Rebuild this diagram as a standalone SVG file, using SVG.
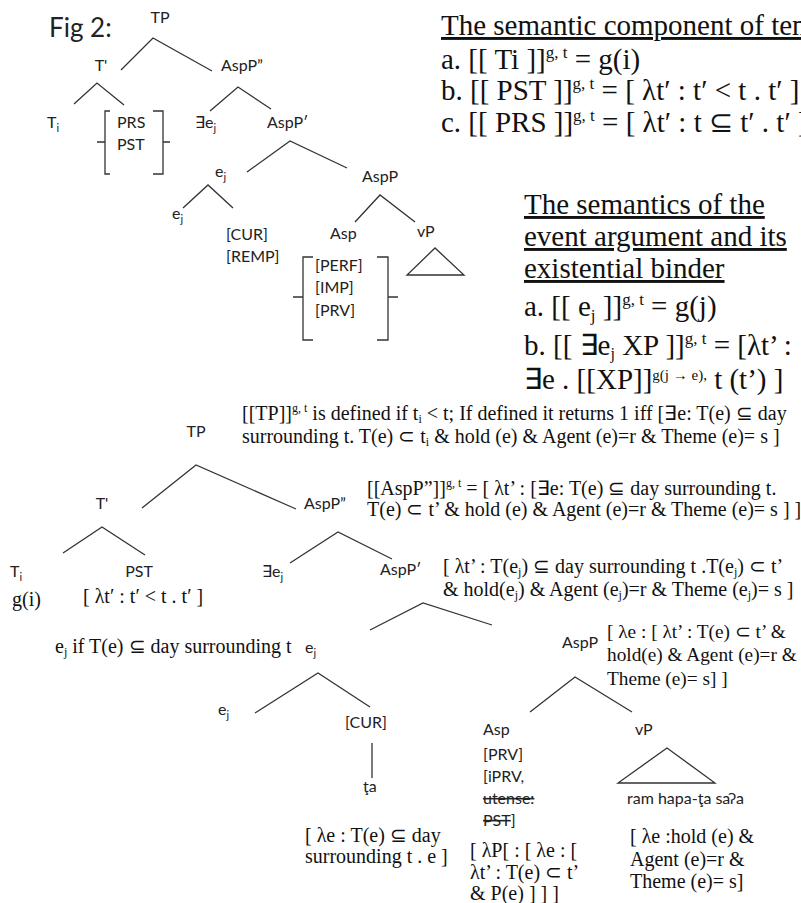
<svg xmlns="http://www.w3.org/2000/svg" width="801" height="903" viewBox="0 0 801 903">
<style>
.s{font-family:Lato,"Liberation Sans","DejaVu Sans",sans-serif;font-size:16px;fill:#222}
.r{font-family:"Liberation Serif","Times New Roman",serif;fill:#111}
.big{font-size:29px}
.m{font-size:20px}
.m2{font-size:19.3px}
.fig{font-size:26px}
.ln{stroke:#333;stroke-width:1.3;fill:none}
.u{text-decoration:underline}
.st{text-decoration:line-through}
</style>
<rect width="801" height="903" fill="#fff"/>

<!-- connectors -->
<g id="connectors" class="ln">
  <!-- top tree -->
  <polyline points="121,70 153,38 212,71"/>
  <polyline points="74,104 97,83 124,105"/>
  <polyline points="210,111 238,87 271,109"/>
  <polyline points="247,172 290,141 347,168"/>
  <polyline points="183,208 208,185 233,208"/>
  <polyline points="355,222 380,195 415,222"/>
  <polygon points="435,248 407,275 464,275"/>
  <path d="M110,111H105V174H110M97,142H105"/>
  <path d="M153,111H163V174H153M163,142H170"/>
  <path d="M313,257H303V340H313M293,297H303"/>
  <path d="M377,257H388V340H377M388,297H398"/>
  <!-- bottom tree -->
  <polyline points="142,508 196,465 296,509"/>
  <polyline points="63,553 102,527 145,555"/>
  <polyline points="290,563 338,532 392,559"/>
  <polyline points="370,630 423,603 492,625"/>
  <polyline points="255,713 318,673 370,707"/>
  <polyline points="530,712 575,677 632,712"/>
  <line x1="372" y1="743" x2="372" y2="778"/>
  <polygon points="667,748 618,783 715,783"/>
</g>

<!-- top tree -->
<g id="fig-label"><text class="s fig" x="49" y="37">Fig 2:</text></g>
<g id="t-TP"><text class="s" x="160" y="23" text-anchor="middle">TP</text></g>
<g id="t-Tbar"><text class="s" x="101" y="71" text-anchor="middle">T'</text></g>
<g id="t-AspP2"><text class="s" x="221" y="71">AspP”</text></g>
<g id="t-Ti"><text class="s" x="47" y="128">T<tspan font-size="11" dy="4">i</tspan></text></g>
<g id="t-PRS-PST"><text class="s" x="117" y="128">PRS</text><text class="s" x="117" y="150">PST</text></g>
<g id="t-Eej"><text class="s" x="195" y="128">∃e<tspan font-size="11" dy="4">j</tspan></text></g>
<g id="t-AspP1"><text class="s" x="267" y="128">AspP′</text></g>
<g id="t-ej1"><text class="s" x="215" y="177">e<tspan font-size="11" dy="4">j</tspan></text></g>
<g id="t-AspP"><text class="s" x="362" y="182">AspP</text></g>
<g id="t-ej2"><text class="s" x="172" y="219">e<tspan font-size="11" dy="4">j</tspan></text></g>
<g id="t-CUR"><text class="s" x="226" y="240">[CUR]</text><text class="s" x="226" y="262">[REMP]</text></g>
<g id="t-Asp"><text class="s" x="330" y="239">Asp</text></g>
<g id="t-vP"><text class="s" x="417" y="237">vP</text></g>
<g id="t-asp-features"><text class="s" x="315" y="271">[PERF]</text><text class="s" x="315" y="293">[IMP]</text><text class="s" x="315" y="316">[PRV]</text></g>

<!-- top right texts -->
<g id="tense-semantics">
  <text class="r big u" x="441" y="35">The semantic component of tense</text>
  <text class="r big" x="441" y="69">a. [[ Ti ]]<tspan font-size="17" dy="-11">g, t</tspan><tspan dy="11"> = g(i)</tspan></text>
  <text class="r big" x="441" y="100">b. [[ PST ]]<tspan font-size="17" dy="-11">g, t</tspan><tspan dy="11"> = [ λt′ : t′ &lt; t . t′ ]</tspan></text>
  <text class="r big" x="441" y="132">c. [[ PRS ]]<tspan font-size="17" dy="-11">g, t</tspan><tspan dy="11"> = [ λt′ : t ⊆ t′ . t′ ]</tspan></text>
</g>
<g id="event-semantics">
  <text class="r big u" x="524" y="214">The semantics of the</text>
  <text class="r big u" x="524" y="246">event argument and its</text>
  <text class="r big u" x="524" y="278">existential binder</text>
  <text class="r big" x="524" y="316">a. [[ e<tspan font-size="17" dy="5">j</tspan><tspan dy="-5"> ]]</tspan><tspan font-size="17" dy="-11">g, t</tspan><tspan dy="11"> = g(j)</tspan></text>
  <text class="r big" x="524" y="355">b. [[ ∃e<tspan font-size="16" dy="4">j</tspan><tspan dy="-4"> XP ]]</tspan><tspan font-size="17" dy="-11">g, t</tspan><tspan dy="11"> = [λt’ :</tspan></text>
  <text class="r big" x="524" y="389">∃e . [[XP]]<tspan font-size="15" dy="-9">g(j → e),</tspan><tspan dy="9"> t (t’) ]</tspan></text>
</g>

<!-- bottom tree -->
<g id="b-TP-ann"><text class="r m" x="242" y="420">[[TP]]<tspan font-size="12" dy="-8">g, t</tspan><tspan dy="8">  is defined if t</tspan><tspan font-size="12" dy="3">i</tspan><tspan dy="-3"> &lt; t; If defined it returns 1 iff  [∃e: T(e) ⊆ day</tspan></text>
<text class="r m" x="242" y="443">surrounding t. T(e) ⊂ t<tspan font-size="12" dy="3">i</tspan><tspan dy="-3"> &amp; hold (e) &amp; Agent (e)=r &amp; Theme (e)= s ]</tspan></text></g>
<g id="b-TP"><text class="s" x="196" y="437" text-anchor="middle">TP</text></g>
<g id="b-Tbar"><text class="s" x="102" y="509" text-anchor="middle">T'</text></g>
<g id="b-AspP2"><text class="s" x="304" y="509">AspP”</text></g>
<g id="b-AspP2-ann"><text class="r m" x="367" y="495">[[AspP”]]<tspan font-size="12" dy="-8">g, t</tspan><tspan dy="8"> = [ λt’ : [∃e: T(e) ⊆ day surrounding t.</tspan></text>
<text class="r m" x="367" y="516">T(e) ⊂ t’ &amp; hold (e) &amp; Agent (e)=r &amp; Theme (e)= s ] ]</text></g>
<g id="b-Ti"><text class="s" x="10" y="577">T<tspan font-size="11" dy="4">i</tspan></text><text class="r m" x="12" y="606">g(i)</text></g>
<g id="b-PST"><text class="s" x="139" y="577" text-anchor="middle">PST</text><text class="r m" x="83" y="603">[ λt′ : t′ &lt; t . t′ ]</text></g>
<g id="b-Eej"><text class="s" x="262" y="577">∃e<tspan font-size="11" dy="4">j</tspan></text></g>
<g id="b-AspP1"><text class="s" x="380" y="575">AspP′</text>
<text class="r m" x="443" y="573">[ λt’ : T(e<tspan font-size="12" dy="3">j</tspan><tspan dy="-3">) ⊆ day surrounding t .T(e</tspan><tspan font-size="12" dy="3">j</tspan><tspan dy="-3">) ⊂ t’</tspan></text>
<text class="r m" x="443" y="596">&amp; hold(e<tspan font-size="12" dy="3">j</tspan><tspan dy="-3">) &amp; Agent (e</tspan><tspan font-size="12" dy="3">j</tspan><tspan dy="-3">)=r &amp; Theme (e</tspan><tspan font-size="12" dy="3">j</tspan><tspan dy="-3">)= s ]</tspan></text></g>
<g id="b-ej1"><text class="r m" x="55" y="653">e<tspan font-size="12" dy="3">j</tspan><tspan dy="-3"> if T(e) ⊆ day surrounding t</tspan></text>
<text class="s" x="305" y="653">e<tspan font-size="11" dy="4">j</tspan></text></g>
<g id="b-AspP"><text class="s" x="562" y="648">AspP</text>
<text class="r m2" x="607" y="638">[ λe : [ λt’ : T(e) ⊂ t’ &amp;</text>
<text class="r m2" x="607" y="661">hold(e) &amp; Agent (e)=r &amp;</text>
<text class="r m2" x="607" y="685">Theme (e)= s] ]</text></g>
<g id="b-ej2"><text class="s" x="218" y="715">e<tspan font-size="11" dy="4">j</tspan></text></g>
<g id="b-CUR"><text class="s" x="345" y="728">[CUR]</text></g>
<g id="b-ta"><text class="s" x="363" y="792">ţa</text>
<text class="r m" x="305" y="842">[ λe : T(e) ⊆ day</text>
<text class="r m" x="305" y="863">surrounding t . e ]</text></g>
<g id="b-Asp"><text class="s" x="483" y="735">Asp</text>
<text class="s" x="483" y="760">[PRV]</text>
<text class="s" x="483" y="782">[iPRV,</text>
<text class="s st" x="483" y="804">utense:</text>
<text class="s" x="483" y="826"><tspan class="st">PST</tspan>]</text>
<text class="r m" x="470" y="857">[ λP[ : [ λe : [</text>
<text class="r m" x="470" y="879">λt’ : T(e) ⊂ t’</text>
<text class="r m" x="470" y="900">&amp; P(e) ] ] ]</text></g>
<g id="b-vP"><text class="s" x="635" y="735">vP</text>
<text class="s" x="627" y="804">ram hapa-ţa saʔa</text>
<text class="r m" x="630" y="843">[ λe :hold (e) &amp;</text>
<text class="r m" x="630" y="866">Agent (e)=r &amp;</text>
<text class="r m" x="630" y="888">Theme (e)= s]</text></g>
</svg>
